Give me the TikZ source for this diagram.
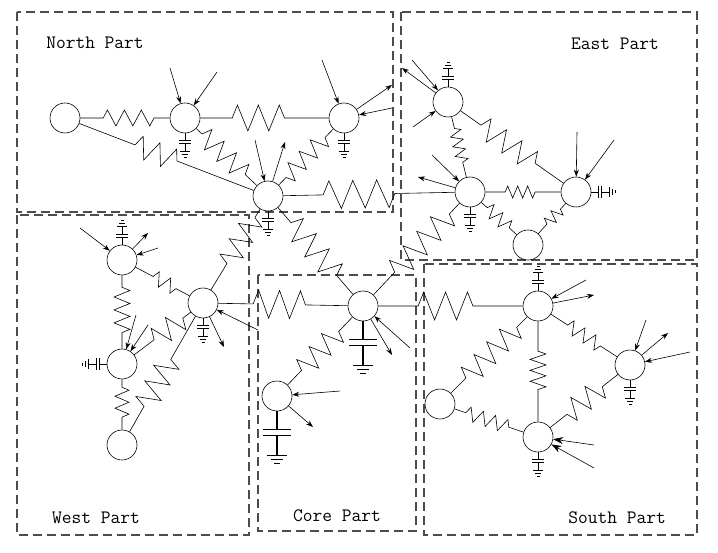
\documentclass[tikz,border=0pt]{standalone}
\usetikzlibrary{arrows.meta,decorations.pathmorphing}
\begin{document}
\begin{tikzpicture}[x=1bp,y=1bp,
  bus/.style={circle,draw,minimum size=30bp,inner sep=0pt},
  part/.style={draw=black!70,dash pattern=on 9bp off 5bp,line width=1.1pt},
  lbl/.style={font=\ttfamily\fontsize{19}{19}\selectfont},
  res/.style n args={4}{decorate,decoration={zigzag,pre length=#1,post length=#2,amplitude=#3,segment length=#4}},
  arr/.style={-{Stealth[length=7bp,width=5bp]},line width=0.6pt},
  every path/.append style={line width=0.6pt},
  smallcap/.pic={\draw (0,0)--(0,-7) (-6,-7)--(6,-7) (-6,-10)--(6,-10) (0,-10)--(0,-18) (-5,-18)--(5,-18) (-3,-21)--(3,-21) (-1.5,-24)--(1.5,-24);},
  bigcap/.pic={\draw[line width=1.4pt] (0,0)--(0,-18) (-14,-18)--(14,-18) (-14,-24)--(14,-24) (0,-24)--(0,-44) (-10,-44)--(10,-44) (-6,-48)--(6,-48) (-3,-52)--(3,-52);}
]
\useasboundingbox (0,0) rectangle (718,-553);
% parts
\draw[part] (17,-12) rectangle (393,-212);
\draw[part] (401,-12) rectangle (697,-260);
\draw[part] (17,-215) rectangle (249,-535);
\draw[part] (258,-275) rectangle (416,-531);
\draw[part] (424,-264) rectangle (697,-535);
\node[lbl] (tN) at (95,-43) {North Part};
\node[lbl] (tE) at (615,-44) {East Part};
\node[lbl] (tW) at (96,-518) {West Part};
\node[lbl] (tC) at (337,-516) {Core Part};
\node[lbl] (tS) at (617,-518) {South Part};
% buses
\node[bus] (N0) at (65,-118) {};
\node[bus] (N1) at (185,-118) {};
\node[bus] (N2) at (344,-118) {};
\node[bus] (H) at (268,-196) {};
\node[bus] (E1) at (448,-102) {};
\node[bus] (E2) at (470,-192) {};
\node[bus] (E3) at (576,-192) {};
\node[bus] (E4) at (528,-245) {};
\node[bus] (W1) at (122,-260) {};
\node[bus] (W2) at (203,-303) {};
\node[bus] (W3) at (122,-364) {};
\node[bus] (W4) at (122,-445) {};
\node[bus] (C1) at (363,-306) {};
\node[bus] (C2) at (277,-396) {};
\node[bus] (S1) at (538,-306) {};
\node[bus] (S2) at (630,-365) {};
\node[bus] (S3) at (440,-404) {};
\node[bus] (S4) at (538,-437) {};
% resistors
\draw[res={23}{15}{8}{17}] (N0)--(N1);
\draw[res={32}{34}{13}{21}] (N1)--(N2);
\draw[res={60}{80}{11}{18}] (N0)--(H);
\draw[res={8}{12}{10}{17}] (N1)--(H);
\draw[res={12}{10}{9}{16}] (N2)--(H);
\draw[res={40}{60}{14}{24}] (H)--(E2);
\draw[res={10}{25}{11}{18}] (H)--(W2);
\draw[res={20}{15}{12}{20}] (H)--(C1);
\draw[res={15}{25}{12}{20}] (E2)--(C1);
\draw[res={12}{12}{6}{10}] (E1)--(E2);
\draw[res={25}{30}{11}{19}] (E1)--(E3);
\draw[res={20}{25}{6}{10}] (E2)--(E3);
\draw[res={8}{8}{7}{12}] (E2)--(E4);
\draw[res={8}{10}{6}{10}] (E3)--(E4);
\draw[res={40}{40}{14}{22}] (C1)--(S1);
\draw[res={20}{15}{7}{13}] (W1)--(W2);
\draw[res={12}{12}{8}{13}] (W1)--(W3);
\draw[res={8}{8}{7}{12}] (W3)--(W4);
\draw[res={10}{20}{11}{18}] (W2)--(W3);
\draw[res={50}{25}{12}{18}] (W2)--(W4);
\draw[res={35}{35}{14}{21}] (W2)--(C1);
\draw[res={20}{15}{11}{18}] (C1)--(C2);
\draw[res={20}{18}{7}{13}] (S1)--(S2);
\draw[res={15}{15}{11}{18}] (S1)--(S3);
\draw[res={30}{30}{8}{11}] (S1)--(S4);
\draw[res={20}{15}{11}{18}] (S2)--(S4);
\draw[res={12}{15}{7}{13}] (S3)--(S4);
% capacitors
\pic at (N1.south) {smallcap};
\pic at (N2.south) {smallcap};
\pic at (H.south) {smallcap};
\pic[rotate=180] at (E1.north) {smallcap};
\pic at (E2.south) {smallcap};
\pic[rotate=90] at (E3.east) {smallcap};
\pic[rotate=180] at (W1.north) {smallcap};
\pic at (W2.south) {smallcap};
\pic[rotate=-90] at (W3.west) {smallcap};
\pic at (C1.south) {bigcap};
\pic at (C2.south) {bigcap};
\pic[rotate=180] at (S1.north) {smallcap};
\pic at (S2.south) {smallcap};
\pic at (S4.south) {smallcap};
% arrow end points
\foreach \n/\x/\y in {a1/170/-68,a2/217/-72,a3/322/-60,a4/392/-85,a5/392/-108,a6/255/-140,a7/285/-142,
  b1/412/-60,b2/402/-68,b3/413/-127,b4/432/-155,b5/418/-177,b6/577/-132,b7/614/-140,
  c1/80/-228,c2/148/-233,c3/158/-248,c4/136/-315,c5/148/-325,c6/258/-330,c7/224/-347,
  d1/410/-348,d2/392/-355,d3/340/-391,d4/313/-427,
  e1/586/-280,e2/594/-295,e3/646/-320,e4/668/-333,e5/690/-352,e6/594/-445,e7/594/-468}
  {\coordinate (\n) at (\x,\y);}
\draw[arr] (a1)--(N1); \draw[arr] (a2)--(N1);
\draw[arr] (a3)--(N2); \draw[arr] (N2)--(a4); \draw[arr] (a5)--(N2);
\draw[arr] (a6)--(H); \draw[arr] (H)--(a7);
\draw[arr] (b1)--(E1); \draw[arr] (E1)--(b2); \draw[arr] (b3)--(E1);
\draw[arr] (b4)--(E2); \draw[arr] (E2)--(b5);
\draw[arr] (b6)--(E3); \draw[arr] (b7)--(E3);
\draw[arr] (c1)--(W1); \draw[arr] (W1)--(c2); \draw[arr] (c3)--(W1);
\draw[arr] (c4)--(W3); \draw[arr] (c5)--(W3);
\draw[arr] (c6)--(W2); \draw[arr] (W2)--(c7);
\draw[arr] (d1)--(C1); \draw[arr] (C1)--(d2);
\draw[arr] (d3)--(C2); \draw[arr] (C2)--(d4);
\draw[arr] (e1)--(S1); \draw[arr] (S1)--(e2);
\draw[arr] (e3)--(S2); \draw[arr] (S2)--(e4); \draw[arr] (e5)--(S2);
\draw[-{Stealth[length=10bp,width=7bp]},line width=0.6pt] (e6)--(S4);
\draw[-{Stealth[length=10bp,width=7bp]},line width=0.6pt] (e7)--(S4);
\end{tikzpicture}
\end{document}
